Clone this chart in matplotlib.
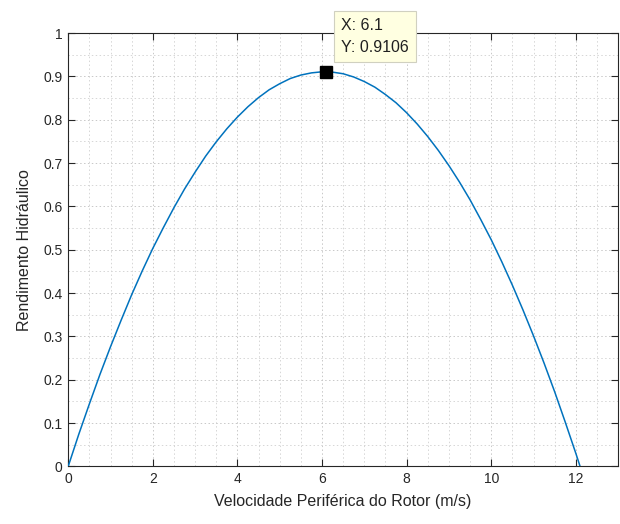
import matplotlib
matplotlib.use("Agg")
import matplotlib.pyplot as plt
from matplotlib.ticker import MultipleLocator

# Data
velocidade = [0.0, 0.25, 0.5, 0.75, 1.0, 1.25, 1.5, 1.75, 2.0, 2.25, 2.5, 2.75, 3.0,
              3.25, 3.5, 3.75, 4.0, 4.25, 4.5, 4.75, 5.0, 5.25, 5.5, 5.75, 6.0, 6.1,
              6.25, 6.5, 6.75, 7.0, 7.25, 7.5, 7.75, 8.0, 8.25, 8.5, 8.75, 9.0, 9.25,
              9.5, 9.75, 10.0, 10.25, 10.5, 10.75, 11.0, 11.25, 11.5, 11.75, 12.0, 12.1]
rendimento = [0.0, 0.074, 0.144, 0.212, 0.276, 0.337, 0.396, 0.451, 0.503, 0.551,
              0.597, 0.640, 0.679, 0.716, 0.749, 0.779, 0.806, 0.830, 0.851, 0.869,
              0.883, 0.895, 0.903, 0.908, 0.9105, 0.9106, 0.9097, 0.906, 0.8985, 0.888,
              0.875, 0.858, 0.839, 0.816, 0.790, 0.761, 0.729, 0.694, 0.656, 0.615,
              0.570, 0.523, 0.472, 0.418, 0.361, 0.301, 0.238, 0.172, 0.102, 0.030, 0.0]
tip_x = 6.1
tip_y = 0.9106
x_ticks = [0, 2, 4, 6, 8, 10, 12]
y_ticks = [0, 0.1, 0.2, 0.3, 0.4, 0.5, 0.6, 0.7, 0.8, 0.9, 1]

plt.rcParams['font.family'] = ['Liberation Sans', 'DejaVu Sans']

fig = plt.figure(figsize=(6.2, 5.24), dpi=100)
ax = fig.add_axes([0.110, 0.110, 0.887, 0.827])

ax.plot(velocidade, rendimento, color='#0072BD', lw=1.1, zorder=3)
ax.plot([tip_x], [tip_y], marker='s', color='black', markersize=8.5, ls='none', zorder=4)

ax.set_xlim(0, 13)
ax.set_ylim(0, 1)
ax.set_xticks(x_ticks)
ax.set_yticks(y_ticks)
ax.set_yticklabels([('%g' % v) for v in y_ticks])
ax.xaxis.set_minor_locator(MultipleLocator(0.5))
ax.yaxis.set_minor_locator(MultipleLocator(0.05))

ax.grid(True, which='major', color='#c8c8c8', ls=(0, (1.5, 2.5)), lw=0.7, zorder=0)
ax.grid(True, which='minor', color='#d6d6d6', ls=(0, (1.5, 2.5)), lw=0.7, zorder=0)
ax.set_axisbelow(True)

ax.tick_params(which='major', direction='in', length=5, width=0.8, top=True, right=True,
               colors='#262626', labelsize=10, labelcolor='#262626', pad=4)
ax.tick_params(which='minor', length=0, top=True, right=True)
for s in ax.spines.values():
    s.set_color('#262626')
    s.set_linewidth(0.8)

ax.set_xlabel('Velocidade Periférica do Rotor (m/s)', fontsize=11.5, color='#262626', labelpad=6)
ax.set_ylabel('Rendimento Hidráulico', fontsize=11.5, color='#262626', labelpad=8)

ax.annotate('X: 6.1\nY: 0.9106', xy=(tip_x, tip_y), xytext=(341, 506), textcoords='figure pixels',
            fontsize=11.5, color='#202020', va='top', ha='left', linespacing=1.55,
            annotation_clip=False, zorder=6,
            bbox=dict(boxstyle='square,pad=0.45', fc='#FFFFE1', ec='#d0d0c0', lw=0.8))

fig.savefig('out.png', dpi=100)
